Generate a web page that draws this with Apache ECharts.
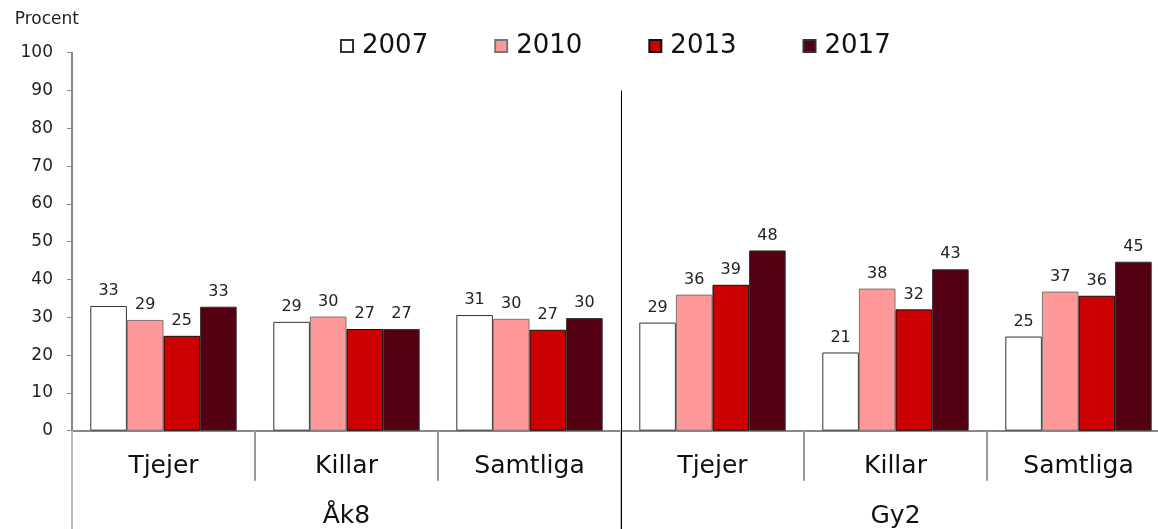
<!DOCTYPE html>
<html>
<head>
<meta charset="utf-8">
<script src="https://cdn.jsdelivr.net/npm/echarts@6/dist/echarts.min.js"></script>
<style>
    html, body { margin: 0; padding: 0; background: #fff; }
    #chart { width: 1158px; height: 529px; }
</style>
</head>
<body>
<div id="chart"></div>
<script>
// groups and categories
let categories = ['Tjejer', 'Killar', 'Samtliga', 'Tjejer', 'Killar', 'Samtliga']
let groups = ['Åk8', 'Gy2']
let years = ['2007', '2010', '2013', '2017']

// values (labels show rounded)
let v2007 = [33.0, 28.8, 30.6, 28.6, 20.7, 24.9]
let v2010 = [29.3, 30.2, 29.6, 36.0, 37.6, 36.8]
let v2013 = [25.1, 26.9, 26.7, 38.6, 32.1, 35.7]
let v2017 = [32.8, 26.9, 29.8, 47.7, 42.7, 44.7]

let colors = ['#ffffff', '#ff9999', '#cc0000', '#520012']
let borders = ['#333333', '#777777', '#111111', '#333333']

let font = 'DejaVu Sans'
let chart = echarts.init(document.getElementById('chart'))

let values = [v2007, v2010, v2013, v2017]
let series = years.map(function (y, i) {
    return {
        name: y,
        type: 'bar',
        xAxisIndex: 0,
        barGap: '0%',
        barCategoryGap: '20%',
        data: values[i],
        itemStyle: {
            color: colors[i],
            borderColor: borders[i],
            borderWidth: 1
        },
        label: {
            show: true,
            position: 'top',
            distance: 7,
            color: '#222',
            fontFamily: font,
            fontSize: 16,
            formatter: function (p) { return Math.round(p.value) }
        }
    }
})

chart.setOption({
    animation: false,
    legend: {
        data: years,
        left: 335,
        top: 28,
        icon: 'rect',
        itemWidth: 12,
        itemHeight: 12,
        itemGap: 66,
        textStyle: { fontFamily: font, fontSize: 26, color: '#111', padding: [0, 0, 0, 4] }
    },
    grid: {
        left: 72,
        top: 52.7,
        width: 1098,
        height: 378,
        outerBoundsMode: 'none'
    },
    xAxis: [
        {
            type: 'category',
            data: categories,
            axisLine: { lineStyle: { color: '#888', width: 2 } },
            axisTick: { show: true, length: 50, lineStyle: { color: '#999', width: 2 } },
            axisLabel: { interval: 0, margin: 23, fontFamily: font, fontSize: 25, color: '#111' }
        },
        {
            type: 'category',
            data: groups,
            position: 'bottom',
            axisLine: { show: false },
            axisTick: { show: true, length: 110, lineStyle: { color: '#bbb', width: 2 } },
            axisLabel: { margin: 73, fontFamily: font, fontSize: 25, color: '#111' }
        }
    ],
    yAxis: {
        type: 'value',
        min: 0,
        max: 100,
        interval: 10,
        name: 'Procent',
        nameLocation: 'end',
        nameGap: 25,
        nameTextStyle: { fontFamily: font, fontSize: 17, color: '#222', align: 'right', padding: [0, -7, 0, 0] },
        axisLine: { show: true, lineStyle: { color: '#888', width: 2 } },
        axisTick: { show: true, length: 5, lineStyle: { color: '#888' } },
        axisLabel: { margin: 19, fontFamily: font, fontSize: 17, color: '#222' },
        splitLine: { show: false }
    },
    series: series
})

// divider between Åk8 and Gy2
let xa = chart.convertToPixel({ xAxisIndex: 0 }, 2)
let xb = chart.convertToPixel({ xAxisIndex: 0 }, 3)
let xm = Math.round((xa + xb) / 2) + 0.5
let yTop = chart.convertToPixel({ yAxisIndex: 0 }, 90)
chart.setOption({
    graphic: [{
        type: 'line',
        z: 100,
        shape: { x1: xm, y1: yTop, x2: xm, y2: 529 },
        style: { stroke: '#000', lineWidth: 1 }
    }]
})
</script>
</body>
</html>
